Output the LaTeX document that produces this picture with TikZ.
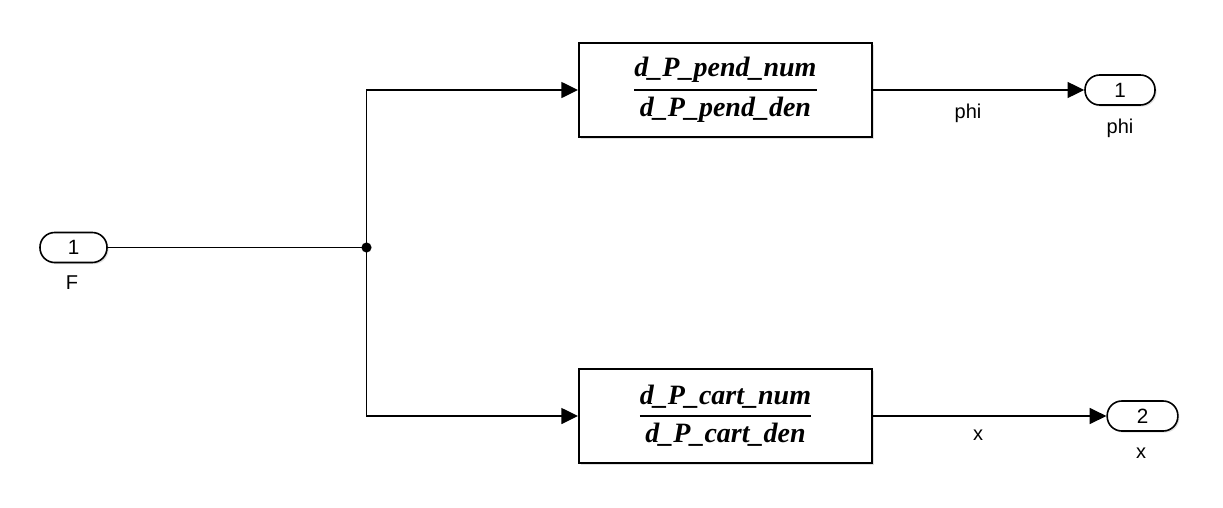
\documentclass[tikz,border=0pt]{standalone}
\usepackage{amsmath}
\usepackage{fontspec}
\setmainfont{Liberation Sans}
\newfontfamily\tffont{Liberation Serif}
\usetikzlibrary{arrows.meta,calc,shadows}
\tikzset{
  wire/.style={line width=1.1pt},
  arr/.style={wire,-{Triangle[length=12.5pt,width=12pt]}},
  port/.style={draw,line width=1.2pt,rounded corners=11pt,inner sep=0pt,
    minimum height=22.5pt,fill=white,font=\fontsize{15.5pt}{17pt}\selectfont,
    drop shadow={shadow xshift=1.2pt,shadow yshift=-1.2pt,fill=black!25}},
  tfblock/.style={draw,line width=1.5pt,inner sep=0pt,minimum width=219.75pt,
    minimum height=70.5pt,fill=white,
    drop shadow={shadow xshift=1.5pt,shadow yshift=-1.5pt,fill=black!25}},
  lbl/.style={font=\fontsize{15pt}{17pt}\selectfont,inner sep=0pt},
}
\newcommand{\tffrac}[2]{$\genfrac{}{}{1.6pt}{0}{\text{\tffont\bfseries\itshape\fontsize{21pt}{24pt}\selectfont #1}}{\text{\tffont\bfseries\itshape\fontsize{21pt}{24pt}\selectfont #2}}$}
\begin{document}
\begin{tikzpicture}[x=0.75pt,y=-0.75pt]
\useasboundingbox (0,0) rectangle (1223,507);
% input port
\node[port,minimum width=50.25pt] (in1) at (73.5,247.5) {1};
\node[lbl] (lF) at (72,283) {F};
% junction
\coordinate (J) at (366.5,247.5);
% blocks
\node[tfblock] (tf1) at (725.5,90) {\tffrac{d\_P\_pend\_num}{d\_P\_pend\_den}};
\node[tfblock] (tf2) at (725.5,416) {\tffrac{d\_P\_cart\_num}{d\_P\_cart\_den}};
% output ports
\node[port,minimum width=52.5pt] (out1) at (1120,90) {1};
\node[lbl] (lphi) at (1120,128) {phi};
\node[port,minimum width=53pt] (out2) at (1142.5,416) {2};
\node[lbl] (lx) at (1141,453) {x};
% connectors
\draw[wire] (in1.east) -- (J);
\fill (J) circle (3.8pt);
\draw[arr] (J) |- (tf1.west);
\draw[arr] (J) |- (tf2.west);
\draw[arr] (tf1.east) -- node[lbl,pos=0.45,below=10pt] (sphi) {phi} (out1.west);
\draw[arr] (tf2.east) -- node[lbl,pos=0.45,below=10pt] (sx) {x} (out2.west);
\end{tikzpicture}
\end{document}
